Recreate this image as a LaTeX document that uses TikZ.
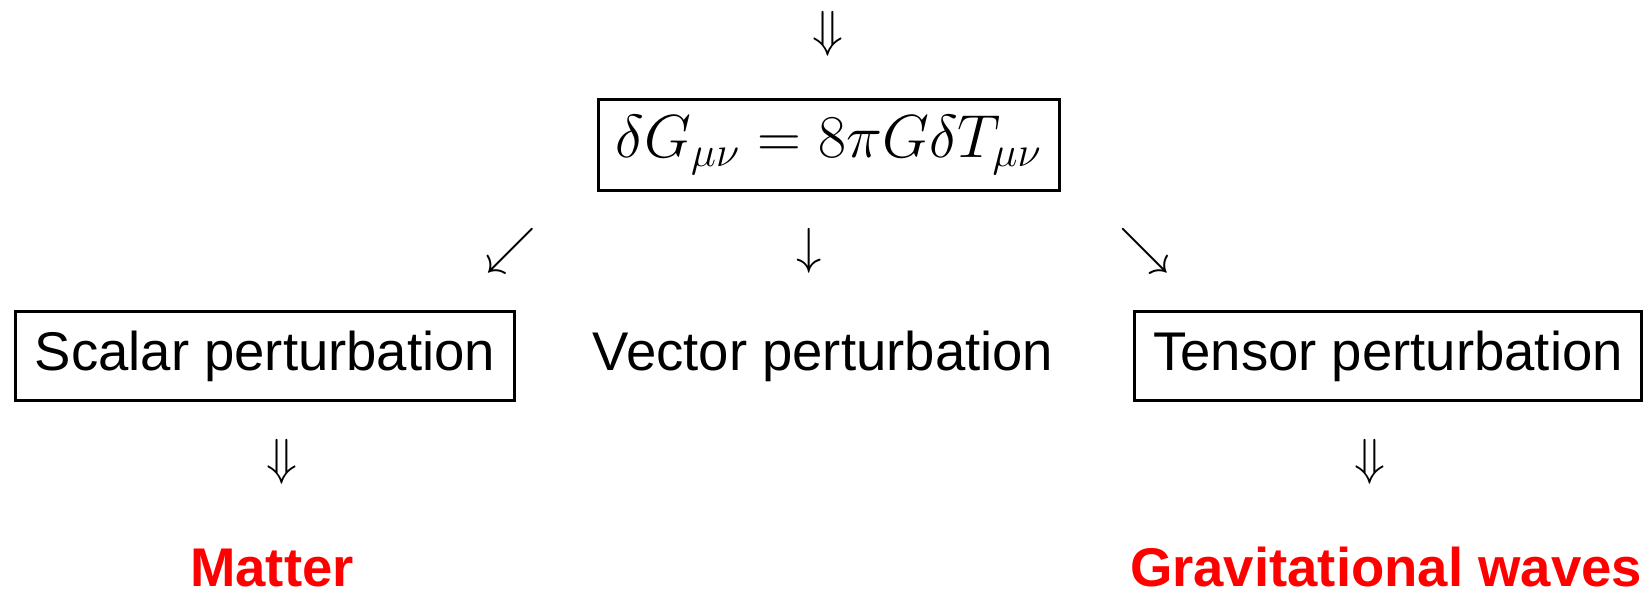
\documentclass[tikz,border=0pt]{standalone}
\usepackage{fontspec}
\setmainfont{Liberation Sans}
\usetikzlibrary{positioning}
\definecolor{resred}{HTML}{FF0000}

\begin{document}
\begin{tikzpicture}[x=0.01cm,y=-0.01cm,
 box/.style={draw,line width=0.9pt,minimum height=0.89cm,inner xsep=0.19cm,inner ysep=0pt,font=\fontsize{15.5}{18}\selectfont},
 plain/.style={font=\fontsize{15.5}{18}\selectfont,inner sep=0pt},
 glyph/.style={font=\fontsize{15.5}{18}\selectfont,inner sep=0pt},
 res/.style={font=\fontsize{15.5}{18}\selectfont\bfseries,text=resred,inner sep=0pt,text depth=0pt,anchor=base}
]
\useasboundingbox (0,0) rectangle (1652,592);
\node[box,minimum height=0.91cm,inner xsep=0.17cm,font=\fontsize{17.7}{21}\selectfont] (eq) at (829,145) {$\delta G_{\mu\nu}=8\pi G\delta T_{\mu\nu}$};
\node[glyph] (top) at (828,34) {$\Downarrow$};
\node[glyph] (sw) at (511,251) {$\swarrow$};
\node[glyph] (dn) at (809,251) {$\downarrow$};
\node[glyph] (se) at (1145,251) {$\searrow$};
\node[box] (scalar) at (265,356) {Scalar perturbation};
\node[plain] (vector) at (823,356) {Vector perturbation};
\node[box] (tensor) at (1388,356) {Tensor perturbation};
\node[glyph] (sdown) at (282,462) {$\Downarrow$};
\node[glyph] (tdown) at (1370,462) {$\Downarrow$};
\node[res] (matter) at (272,587) {Matter};
\node[res] (gw) at (1386,587) {Gravitational waves};
\end{tikzpicture}
\end{document}
